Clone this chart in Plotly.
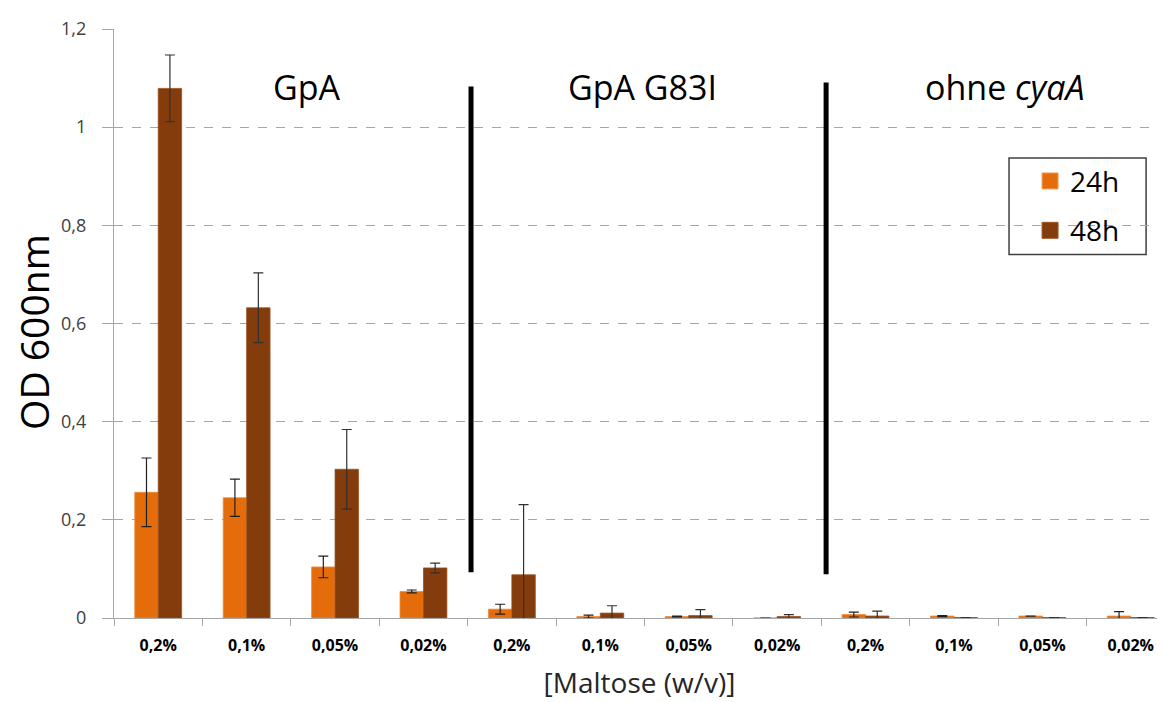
import plotly.graph_objects as go

categories = ["0,2%", "0,1%", "0,05%", "0,02%",
              "0,2%", "0,1%", "0,05%", "0,02%",
              "0,2%", "0,1%", "0,05%", "0,02%"]
vals_24h = [0.256, 0.245, 0.104, 0.054,
            0.018, 0.003, 0.003, 0.0,
            0.007, 0.004, 0.004, 0.004]
err_24h = [0.070, 0.038, 0.022, 0.003,
           0.010, 0.003, 0.001, 0.0,
           0.005, 0.001, 0.0, 0.009]
vals_48h = [1.079, 0.632, 0.303, 0.102,
            0.088, 0.010, 0.005, 0.003,
            0.004, 0.001, 0.001, 0.001]
err_48h = [0.068, 0.071, 0.081, 0.010,
           0.143, 0.015, 0.012, 0.004,
           0.010, 0.0, 0.0, 0.0]
group_labels = ["GpA", "GpA G83I", "ohne <i>cyaA</i>"]
y_ticks = [0, 0.2, 0.4, 0.6, 0.8, 1.0, 1.2]
y_ticktext = ["0", "0,2", "0,4", "0,6", "0,8", "1", "1,2"]

FONT = "'Open Sans', sans-serif"
C24 = "#E46C0A"
C48 = "#843C0C"
x = list(range(len(categories)))

fig = go.Figure()
fig.add_trace(go.Bar(
    x=x, y=vals_24h, name="24h", showlegend=False,
    marker=dict(color=C24, line=dict(color="#F08A3A", width=0.8)),
    error_y=dict(type="data", array=err_24h, color="#202020", thickness=1.2, width=5),
))
fig.add_trace(go.Bar(
    x=x, y=vals_48h, name="48h", showlegend=False,
    marker=dict(color=C48, line=dict(color="#9A5020", width=0.8)),
    error_y=dict(type="data", array=err_48h, color="#303030", thickness=1.2, width=5),
))
# legend entries (square swatches)
for nm, col, edge in [("24h", C24, "#F0A060"), ("48h", C48, "#A05828")]:
    fig.add_trace(go.Scatter(
        x=[None], y=[None], mode="markers", name=nm, legendgroup=nm,
        marker=dict(symbol="square", size=18, color=col, line=dict(color=edge, width=1)),
    ))

# group separators
sep_x = [3.538, 7.554]
sep_y = [(0.093, 1.083), (0.089, 1.091)]
for sx, (y0, y1) in zip(sep_x, sep_y):
    fig.add_shape(type="line", xref="x", yref="y", x0=sx, x1=sx, y0=y0, y1=y1,
                  line=dict(color="black", width=5))

# legend box
fig.add_shape(type="rect", xref="paper", yref="paper", x0=0.8516, x1=0.982, y0=0.6172, y1=0.7808,
              line=dict(color="#404040", width=1.5), fillcolor="white", layer="below")

# group labels
label_x = [1.683, 5.478, 9.568]
for lx, txt in zip(label_x, group_labels):
    fig.add_annotation(x=lx, y=1.081, xref="x", yref="y", text=txt, showarrow=False,
                       font=dict(family=FONT, size=34, color="black"), yanchor="middle")

# y-axis title
fig.add_annotation(x=-0.0761, y=0.4857, xref="paper", yref="paper", text="OD 600nm",
                   textangle=-90, showarrow=False, xanchor="center", yanchor="middle",
                   borderpad=0,
                   font=dict(family=FONT, size=39, color="black"))

fig.update_layout(
    width=1165, height=702,
    margin=dict(l=106, r=8, t=17, b=92),
    plot_bgcolor="white", paper_bgcolor="white",
    barmode="group", bargap=0.47, bargroupgap=0,
    font=dict(family=FONT, color="#404040"),
    legend=dict(
        x=0.8716, y=0.784, xanchor="left", yanchor="top",
        bgcolor="rgba(0,0,0,0)", borderwidth=0,
        font=dict(family=FONT, size=28, color="black"),
        tracegroupgap=10,
    ),
    xaxis=dict(
        range=[-0.5, 11.387],
        tickmode="array", tickvals=x, ticktext=[f"<b>{c}</b>" for c in categories],
        tickfont=dict(family=FONT, size=16, color="black"),
        ticks="", showgrid=False, zeroline=False,
        showline=True, linecolor="#A6A6A6", linewidth=1.3,
        ticklabelstandoff=13,
        minor=dict(tickvals=[i - 0.5 for i in range(len(categories) + 1)],
                   ticks="outside", ticklen=7, tickcolor="#A6A6A6", showgrid=False),
        title=dict(text="[Maltose (w/v)]", font=dict(family=FONT, size=28, color="#262626"),
                   standoff=18),
    ),
    yaxis=dict(
        range=[0, 1.2], tickmode="array", tickvals=y_ticks, ticktext=y_ticktext,
        tickfont=dict(family=FONT, size=18, color="#404040"),
        ticks="outside", ticklen=11, tickcolor="#A6A6A6",
        ticklabelstandoff=12,
        showgrid=True, gridcolor="#A6A6A6", griddash="dash", gridwidth=1,
        zeroline=False, showline=True, linecolor="#A6A6A6", linewidth=1.3,
    ),
)

fig.write_html("out.html")
